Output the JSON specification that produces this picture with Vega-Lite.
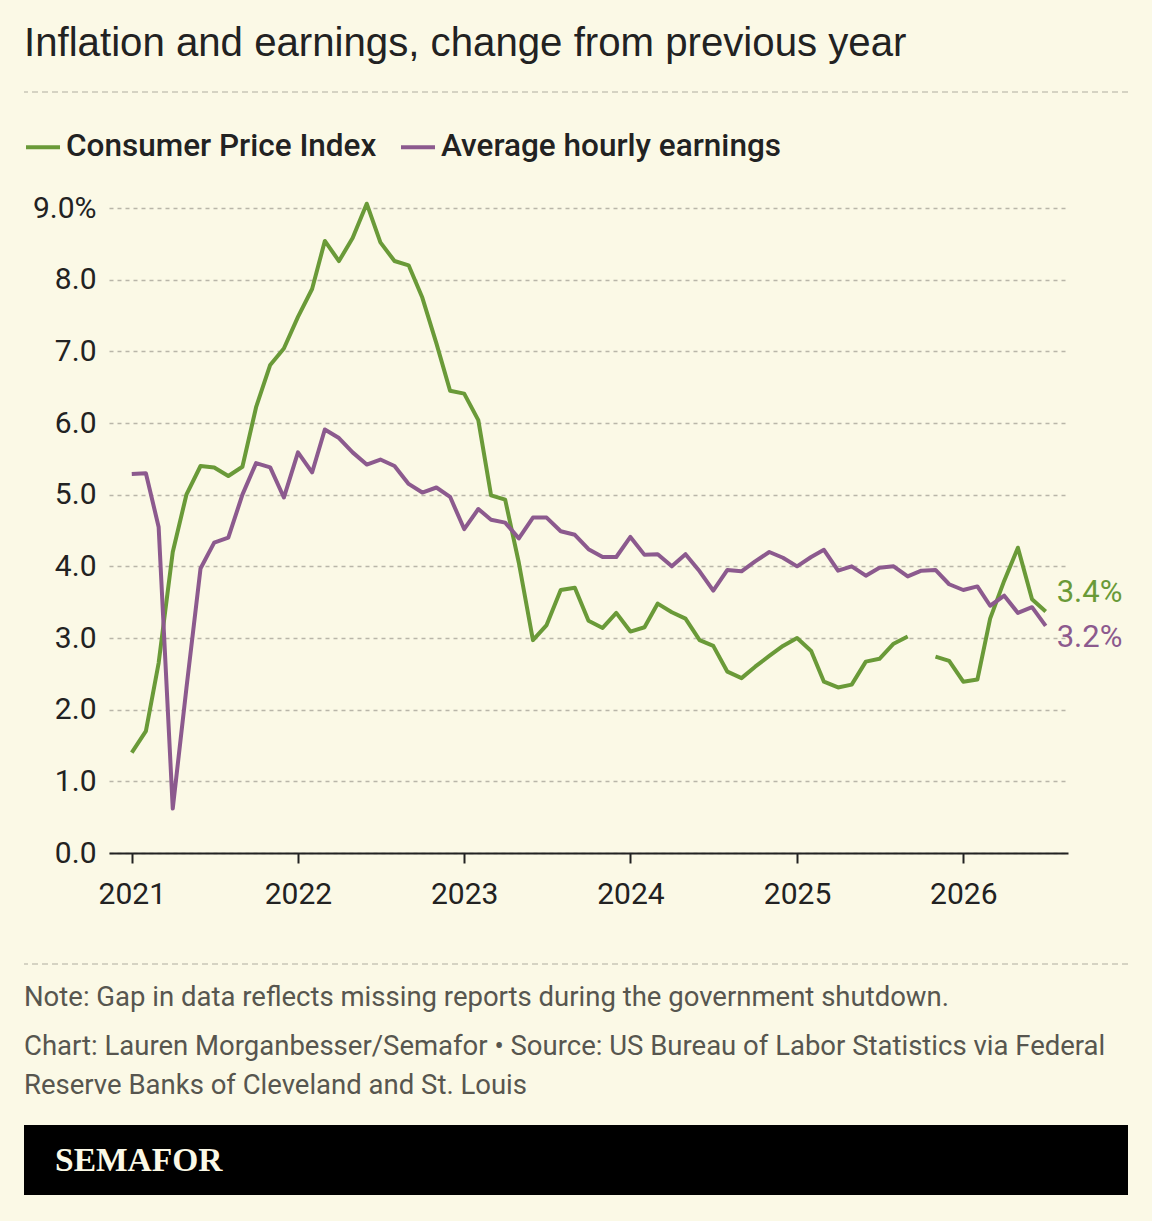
{
  "$schema": "https://vega.github.io/schema/vega-lite/v6.json",
  "description": "Inflation and earnings, change from previous year (Semafor)",
  "background": "#FBF9E6",
  "padding": {"left": 23, "right": 24, "top": 23, "bottom": 26},
  "spacing": 25,
  "config": {
    "view": {"stroke": null},
    "font": "Roboto"
  },
  "datasets": {
    "monthly": [
      {"date": "2021-01-01", "cpi": 1.4, "ahe": 5.29},
      {"date": "2021-02-01", "cpi": 1.7, "ahe": 5.3},
      {"date": "2021-03-01", "cpi": 2.65, "ahe": 4.55},
      {"date": "2021-04-01", "cpi": 4.2, "ahe": 0.62},
      {"date": "2021-05-01", "cpi": 5.0, "ahe": 2.3},
      {"date": "2021-06-01", "cpi": 5.4, "ahe": 3.97},
      {"date": "2021-07-01", "cpi": 5.38, "ahe": 4.33},
      {"date": "2021-08-01", "cpi": 5.26, "ahe": 4.4},
      {"date": "2021-09-01", "cpi": 5.39, "ahe": 5.0},
      {"date": "2021-10-01", "cpi": 6.22, "ahe": 5.44},
      {"date": "2021-11-01", "cpi": 6.81, "ahe": 5.38},
      {"date": "2021-12-01", "cpi": 7.04, "ahe": 4.96},
      {"date": "2022-01-01", "cpi": 7.48, "ahe": 5.59},
      {"date": "2022-02-01", "cpi": 7.87, "ahe": 5.31},
      {"date": "2022-03-01", "cpi": 8.54, "ahe": 5.91},
      {"date": "2022-04-01", "cpi": 8.26, "ahe": 5.79},
      {"date": "2022-05-01", "cpi": 8.58, "ahe": 5.59},
      {"date": "2022-06-01", "cpi": 9.06, "ahe": 5.42},
      {"date": "2022-07-01", "cpi": 8.52, "ahe": 5.49},
      {"date": "2022-08-01", "cpi": 8.26, "ahe": 5.4},
      {"date": "2022-09-01", "cpi": 8.2, "ahe": 5.15},
      {"date": "2022-10-01", "cpi": 7.75, "ahe": 5.03},
      {"date": "2022-11-01", "cpi": 7.11, "ahe": 5.1},
      {"date": "2022-12-01", "cpi": 6.45, "ahe": 4.97},
      {"date": "2023-01-01", "cpi": 6.41, "ahe": 4.52},
      {"date": "2023-02-01", "cpi": 6.04, "ahe": 4.8},
      {"date": "2023-03-01", "cpi": 4.99, "ahe": 4.65},
      {"date": "2023-04-01", "cpi": 4.93, "ahe": 4.61},
      {"date": "2023-05-01", "cpi": 4.05, "ahe": 4.39},
      {"date": "2023-06-01", "cpi": 2.97, "ahe": 4.68},
      {"date": "2023-07-01", "cpi": 3.18, "ahe": 4.68},
      {"date": "2023-08-01", "cpi": 3.67, "ahe": 4.49},
      {"date": "2023-09-01", "cpi": 3.7, "ahe": 4.44},
      {"date": "2023-10-01", "cpi": 3.24, "ahe": 4.24},
      {"date": "2023-11-01", "cpi": 3.14, "ahe": 4.13},
      {"date": "2023-12-01", "cpi": 3.35, "ahe": 4.13},
      {"date": "2024-01-01", "cpi": 3.09, "ahe": 4.41},
      {"date": "2024-02-01", "cpi": 3.15, "ahe": 4.16},
      {"date": "2024-03-01", "cpi": 3.48, "ahe": 4.17},
      {"date": "2024-04-01", "cpi": 3.36, "ahe": 4.0},
      {"date": "2024-05-01", "cpi": 3.27, "ahe": 4.17},
      {"date": "2024-06-01", "cpi": 2.97, "ahe": 3.93},
      {"date": "2024-07-01", "cpi": 2.89, "ahe": 3.66},
      {"date": "2024-08-01", "cpi": 2.53, "ahe": 3.95},
      {"date": "2024-09-01", "cpi": 2.44, "ahe": 3.93},
      {"date": "2024-10-01", "cpi": 2.6, "ahe": 4.07},
      {"date": "2024-11-01", "cpi": 2.75, "ahe": 4.2},
      {"date": "2024-12-01", "cpi": 2.89, "ahe": 4.12},
      {"date": "2025-01-01", "cpi": 3.0, "ahe": 4.0},
      {"date": "2025-02-01", "cpi": 2.82, "ahe": 4.13},
      {"date": "2025-03-01", "cpi": 2.39, "ahe": 4.23},
      {"date": "2025-04-01", "cpi": 2.31, "ahe": 3.94},
      {"date": "2025-05-01", "cpi": 2.35, "ahe": 4.0},
      {"date": "2025-06-01", "cpi": 2.67, "ahe": 3.87},
      {"date": "2025-07-01", "cpi": 2.71, "ahe": 3.98},
      {"date": "2025-08-01", "cpi": 2.92, "ahe": 4.0},
      {"date": "2025-09-01", "cpi": 3.02, "ahe": 3.86},
      {"date": "2025-10-01", "cpi": null, "ahe": 3.94},
      {"date": "2025-11-01", "cpi": 2.74, "ahe": 3.95},
      {"date": "2025-12-01", "cpi": 2.68, "ahe": 3.75},
      {"date": "2026-01-01", "cpi": 2.39, "ahe": 3.67},
      {"date": "2026-02-01", "cpi": 2.42, "ahe": 3.72},
      {"date": "2026-03-01", "cpi": 3.27, "ahe": 3.45},
      {"date": "2026-04-01", "cpi": 3.8, "ahe": 3.59},
      {"date": "2026-05-01", "cpi": 4.26, "ahe": 3.35},
      {"date": "2026-06-01", "cpi": 3.54, "ahe": 3.43},
      {"date": "2026-07-01", "cpi": 3.37, "ahe": 3.17}
    ],
    "ends": [
      {"date": "2026-07-01", "series": "cpi", "value": 3.37, "label": "3.4%"},
      {"date": "2026-07-01", "series": "ahe", "value": 3.17, "label": "3.2%"}
    ]
  },
  "vconcat": [
    {
      "width": 1104,
      "height": 76,
      "title": {
        "text": "Inflation and earnings, change from previous year",
        "font": "Liberation Sans",
        "fontSize": 40.2,
        "fontWeight": "normal",
        "color": "#222222",
        "anchor": "start",
        "frame": "group",
        "offset": 27.5
      },
      "data": {"values": [{"level": 1}]},
      "mark": {"type": "rule", "color": "#C9C6B8", "strokeDash": [6, 4], "strokeWidth": 1.5},
      "encoding": {
        "y": {"field": "level", "type": "quantitative", "scale": {"domain": [0, 1]}, "axis": null}
      }
    },
    {
      "spacing": 0,
      "hconcat": [
        {
          "width": 8,
          "height": 1,
          "data": {"values": []},
          "mark": "rect",
          "encoding": {}
        },
        {
          "width": 959,
          "height": 645,
          "layer": [
            {
              "data": {"name": "monthly"},
              "transform": [{"fold": ["cpi", "ahe"], "as": ["series", "value"]}],
              "mark": {"type": "line", "strokeWidth": 4, "strokeJoin": "round", "invalid": "break-paths-show-domains"},
              "encoding": {
                "x": {
                  "field": "date",
                  "type": "temporal",
                  "scale": {
                    "type": "utc",
                    "domain": [
                      {"year": 2020, "month": 11, "date": 12, "utc": true},
                      {"year": 2026, "month": 8, "date": 19, "utc": true}
                    ]
                  },
                  "axis": {
                    "values": [
                      {"year": 2021, "utc": true},
                      {"year": 2022, "utc": true},
                      {"year": 2023, "utc": true},
                      {"year": 2024, "utc": true},
                      {"year": 2025, "utc": true},
                      {"year": 2026, "utc": true}
                    ],
                    "format": "%Y",
                    "title": null,
                    "grid": false,
                    "domainColor": "#222222",
                    "domainWidth": 2,
                    "tickColor": "#222222",
                    "tickWidth": 2,
                    "tickSize": 10,
                    "labelFontSize": 30,
                    "labelColor": "#222222",
                    "labelPadding": 16
                  }
                },
                "y": {
                  "field": "value",
                  "type": "quantitative",
                  "scale": {"domain": [0, 9], "nice": false},
                  "axis": {
                    "values": [0, 1, 2, 3, 4, 5, 6, 7, 8, 9],
                    "labelExpr": "datum.value == 9 ? '9.0%' : format(datum.value, '.1f')",
                    "title": null,
                    "domain": false,
                    "ticks": false,
                    "grid": true,
                    "gridColor": "#B9B6A9",
                    "gridDash": [4, 4],
                    "gridWidth": 1.5,
                    "labelFontSize": 30,
                    "labelColor": "#222222",
                    "labelPadding": 13
                  }
                },
                "color": {
                  "field": "series",
                  "type": "nominal",
                  "scale": {"domain": ["cpi", "ahe"], "range": ["#6A9A38", "#8C5A8E"]},
                  "legend": {
                    "orient": "none",
                    "legendX": 0,
                    "legendY": 36,
                    "direction": "horizontal",
                    "title": null,
                    "padding": 0,
                    "symbolType": "stroke",
                    "symbolSize": 1156,
                    "symbolStrokeWidth": 4,
                    "labelFontSize": 31.5,
                    "labelFontWeight": 500,
                    "labelColor": "#222222",
                    "labelOffset": 4,
                    "labelLimit": 0,
                    "columnPadding": 16,
                    "labelExpr": "datum.label == 'cpi' ? 'Consumer Price Index' : 'Average hourly earnings'"
                  }
                }
              }
            },
            {
              "data": {"name": "ends"},
              "transform": [{"filter": "datum.series == 'cpi'"}],
              "mark": {"type": "text", "align": "left", "baseline": "middle", "dx": 11, "dy": -18, "fontSize": 31, "color": "#6A9A38"},
              "encoding": {
                "x": {"field": "date", "type": "temporal", "scale": {"type": "utc"}},
                "y": {"field": "value", "type": "quantitative"},
                "text": {"field": "label"}
              }
            },
            {
              "data": {"name": "ends"},
              "transform": [{"filter": "datum.series == 'ahe'"}],
              "mark": {"type": "text", "align": "left", "baseline": "middle", "dx": 11, "dy": 12, "fontSize": 31, "color": "#8C5A8E"},
              "encoding": {
                "x": {"field": "date", "type": "temporal", "scale": {"type": "utc"}},
                "y": {"field": "value", "type": "quantitative"},
                "text": {"field": "label"}
              }
            }
          ]
        }
      ]
    },
    {
      "width": 1104,
      "height": 30,
      "title": {
        "text": "Note: Gap in data reflects missing reports during the government shutdown.",
        "subtitle": [
          "Chart: Lauren Morganbesser/Semafor • Source: US Bureau of Labor Statistics via Federal",
          "Reserve Banks of Cleveland and St. Louis"
        ],
        "orient": "bottom",
        "anchor": "start",
        "frame": "group",
        "offset": 19,
        "font": "Roboto",
        "fontSize": 27.5,
        "fontWeight": "normal",
        "color": "#57564F",
        "subtitleFont": "Roboto",
        "subtitleFontSize": 27.5,
        "subtitleColor": "#57564F",
        "subtitleLineHeight": 38.5,
        "subtitlePadding": 22
      },
      "data": {"values": [{"level": 0}]},
      "mark": {"type": "rule", "color": "#C9C6B8", "strokeDash": [6, 4], "strokeWidth": 1.5},
      "encoding": {
        "y": {"field": "level", "type": "quantitative", "scale": {"domain": [0, 1]}, "axis": null}
      }
    },
    {
      "width": 1104,
      "height": 70,
      "view": {"fill": "#000000", "stroke": null},
      "title": {
        "text": "SEMAFOR",
        "orient": "bottom",
        "anchor": "start",
        "frame": "group",
        "offset": -34,
        "dx": 31,
        "baseline": "middle",
        "font": "Liberation Serif",
        "fontSize": 33.5,
        "fontWeight": "bold",
        "color": "#FBF9E6"
      },
      "data": {"values": []},
      "mark": "rect",
      "encoding": {}
    }
  ]
}
